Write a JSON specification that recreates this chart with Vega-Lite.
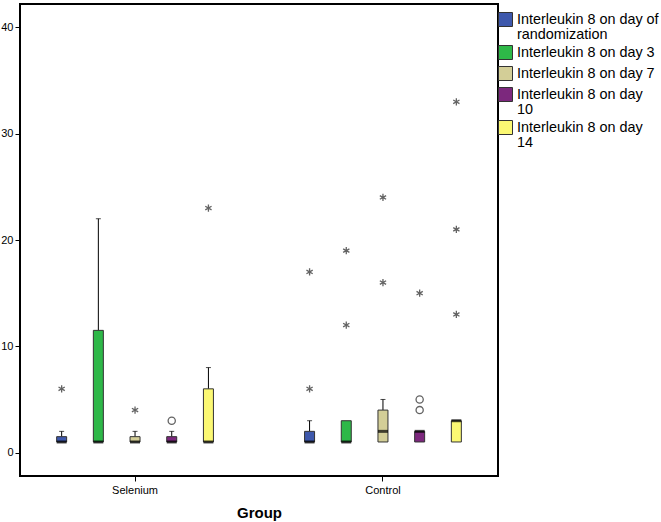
{
  "$schema": "https://vega.github.io/schema/vega-lite/v6.json",
  "width": 478,
  "height": 472,
  "autosize": {"type": "none"},
  "padding": {"left": 20, "top": 4, "right": 163, "bottom": 46},
  "background": "white",
  "config": {
    "font": "Liberation Sans",
    "view": {"stroke": "#000", "strokeWidth": 2},
    "style": {"guide-label": {"lineHeight": 15}},
    "axis": {"labelColor": "#000", "tickColor": "#000", "titleColor": "#000", "grid": false, "domain": false}
  },
  "datasets": {
    "boxes": [
      {"group": "Selenium", "day": "Interleukin 8 on day of randomization", "q1": 1, "median": 1, "q3": 1.5, "upper": 2},
      {"group": "Selenium", "day": "Interleukin 8 on day 3", "q1": 1, "median": 1, "q3": 11.5, "upper": 22},
      {"group": "Selenium", "day": "Interleukin 8 on day 7", "q1": 1, "median": 1, "q3": 1.5, "upper": 2},
      {"group": "Selenium", "day": "Interleukin 8 on day 10", "q1": 1, "median": 1, "q3": 1.5, "upper": 2},
      {"group": "Selenium", "day": "Interleukin 8 on day 14", "q1": 1, "median": 1, "q3": 6, "upper": 8},
      {"group": "Control", "day": "Interleukin 8 on day of randomization", "q1": 1, "median": 1, "q3": 2, "upper": 3},
      {"group": "Control", "day": "Interleukin 8 on day 3", "q1": 1, "median": 1, "q3": 3, "upper": 3},
      {"group": "Control", "day": "Interleukin 8 on day 7", "q1": 1, "median": 2, "q3": 4, "upper": 5},
      {"group": "Control", "day": "Interleukin 8 on day 10", "q1": 1, "median": 2, "q3": 2, "upper": 2},
      {"group": "Control", "day": "Interleukin 8 on day 14", "q1": 1, "median": 3, "q3": 3, "upper": 3}
    ],
    "outliers": [
      {"group": "Selenium", "day": "Interleukin 8 on day of randomization", "value": 6, "kind": "extreme"},
      {"group": "Selenium", "day": "Interleukin 8 on day 7", "value": 4, "kind": "extreme"},
      {"group": "Selenium", "day": "Interleukin 8 on day 10", "value": 3, "kind": "outlier"},
      {"group": "Selenium", "day": "Interleukin 8 on day 14", "value": 23, "kind": "extreme"},
      {"group": "Control", "day": "Interleukin 8 on day of randomization", "value": 6, "kind": "extreme"},
      {"group": "Control", "day": "Interleukin 8 on day of randomization", "value": 17, "kind": "extreme"},
      {"group": "Control", "day": "Interleukin 8 on day 3", "value": 12, "kind": "extreme"},
      {"group": "Control", "day": "Interleukin 8 on day 3", "value": 19, "kind": "extreme"},
      {"group": "Control", "day": "Interleukin 8 on day 7", "value": 16, "kind": "extreme"},
      {"group": "Control", "day": "Interleukin 8 on day 7", "value": 24, "kind": "extreme"},
      {"group": "Control", "day": "Interleukin 8 on day 10", "value": 4, "kind": "outlier"},
      {"group": "Control", "day": "Interleukin 8 on day 10", "value": 5, "kind": "outlier"},
      {"group": "Control", "day": "Interleukin 8 on day 10", "value": 15, "kind": "extreme"},
      {"group": "Control", "day": "Interleukin 8 on day 14", "value": 13, "kind": "extreme"},
      {"group": "Control", "day": "Interleukin 8 on day 14", "value": 21, "kind": "extreme"},
      {"group": "Control", "day": "Interleukin 8 on day 14", "value": 33, "kind": "extreme"}
    ]
  },
  "encoding": {
    "x": {
      "field": "group", "type": "nominal", "sort": ["Selenium", "Control"],
      "scale": {"paddingInner": 0.26, "paddingOuter": 0.094},
      "axis": {"title": "Group", "labelAngle": 0, "labelFontSize": 11, "tickSize": 5, "labelPadding": 3,
               "titleFontSize": 15, "titleFontWeight": "bold", "titlePadding": 10}
    },
    "xOffset": {
      "field": "day", "type": "nominal",
      "sort": ["Interleukin 8 on day of randomization", "Interleukin 8 on day 3", "Interleukin 8 on day 7", "Interleukin 8 on day 10", "Interleukin 8 on day 14"],
      "scale": {"paddingInner": 0, "paddingOuter": 0}
    }
  },
  "layer": [
    {
      "data": {"name": "boxes"},
      "transform": [{"filter": "datum.upper > datum.q3"}],
      "mark": {"type": "rule", "color": "#000", "strokeWidth": 1},
      "encoding": {
        "y": {"field": "q3", "type": "quantitative",
              "scale": {"domain": [-2.2, 42.2], "nice": false, "zero": false},
              "axis": {"title": null, "values": [0, 10, 20, 30, 40], "labelFontSize": 11, "tickSize": 5, "labelPadding": 2}},
        "y2": {"field": "upper"}
      }
    },
    {
      "data": {"name": "boxes"},
      "transform": [{"filter": "datum.upper > datum.q3"}],
      "mark": {"type": "tick", "color": "#000", "size": 5, "thickness": 1},
      "encoding": {"y": {"field": "upper", "type": "quantitative"}}
    },
    {
      "data": {"name": "boxes"},
      "mark": {"type": "bar", "size": 10, "stroke": "#333", "strokeWidth": 1},
      "encoding": {
        "y": {"field": "q1", "type": "quantitative"},
        "y2": {"field": "q3"},
        "color": {
          "field": "day", "type": "nominal",
          "sort": ["Interleukin 8 on day of randomization", "Interleukin 8 on day 3", "Interleukin 8 on day 7", "Interleukin 8 on day 10", "Interleukin 8 on day 14"],
          "scale": {"range": ["#3E58AC", "#2EB848", "#D3CE97", "#7C287D", "#FBF873"]},
          "legend": {
            "orient": "none", "legendX": 478, "legendY": 8, "title": null, "padding": 0,
            "symbolType": "square", "symbolSize": 196, "symbolStrokeColor": "#333", "symbolStrokeWidth": 1,
            "labelFontSize": 14.4, "labelColor": "#000", "labelOffset": 4, "labelLimit": 250, "rowPadding": 2,
            "labelExpr": "datum.label == 'Interleukin 8 on day of randomization' ? ['Interleukin 8 on day of', 'randomization'] : datum.label == 'Interleukin 8 on day 10' ? ['Interleukin 8 on day', '10'] : datum.label == 'Interleukin 8 on day 14' ? ['Interleukin 8 on day', '14'] : datum.label"
          }
        }
      }
    },
    {
      "data": {"name": "boxes"},
      "mark": {"type": "tick", "color": "#000", "size": 10, "thickness": 3},
      "encoding": {"y": {"field": "median", "type": "quantitative"}}
    },
    {
      "data": {"name": "outliers"},
      "mark": {"type": "point", "filled": false, "stroke": "#222", "strokeWidth": 1.3, "size": 52},
      "encoding": {
        "y": {"field": "value", "type": "quantitative"},
        "shape": {
          "field": "kind", "type": "nominal",
          "scale": {"domain": ["outlier", "extreme"], "range": ["circle", "M0,-1L0,1M-0.87,-0.5L0.87,0.5M-0.87,0.5L0.87,-0.5"]},
          "legend": null
        }
      }
    }
  ]
}
